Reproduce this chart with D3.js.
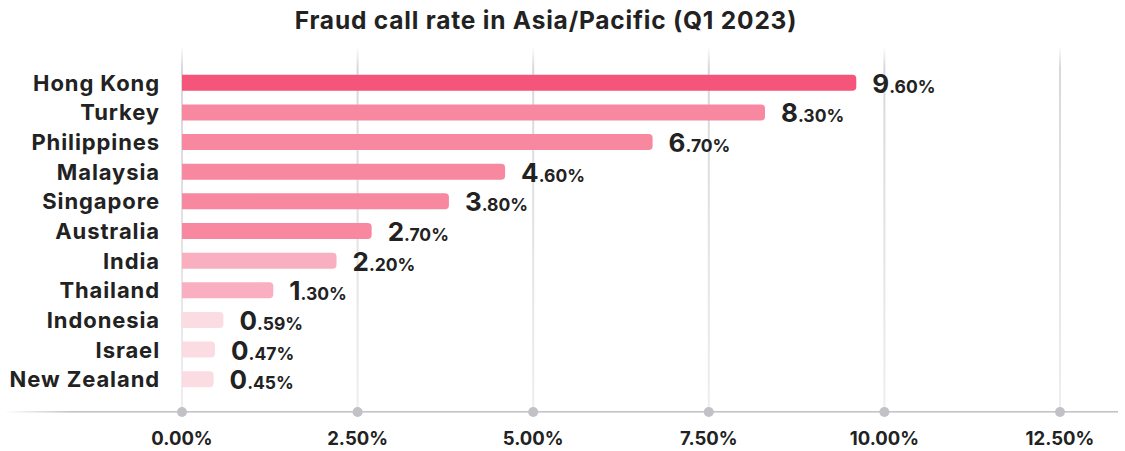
<!DOCTYPE html>
<html><head><meta charset="utf-8">
<script src="https://cdn.jsdelivr.net/npm/d3@7"></script>
<style>body{margin:0;background:#fff;}svg{display:block;font-family:Inter,"Open Sans",sans-serif;}</style>
</head><body>
<svg id="c" width="1125" height="451"></svg>
<script>
const categories = ["Hong Kong","Turkey","Philippines","Malaysia","Singapore","Australia","India","Thailand","Indonesia","Israel","New Zealand"];
const values = [9.60,8.30,6.70,4.60,3.80,2.70,2.20,1.30,0.59,0.47,0.45];
const colors = ["#f5557a","#f7889f","#f7889f","#f7889f","#f7889f","#f7889f","#f9afc0","#f9afc0","#fcdce3","#fcdce3","#fcdce3"];
const tickValues = [0,2.5,5,7.5,10,12.5];
const tickLabels = ["0.00%","2.50%","5.00%","7.50%","10.00%","12.50%"];
const title = "Fraud call rate in Asia/Pacific (Q1 2023)";

const svg = d3.select("#c");
const x = d3.scaleLinear().domain([0,12.5]).range([182,1060]);
const y = d3.scaleBand().domain(categories).range([68,394]).paddingInner(0.46).paddingOuter(0.23);

const defs = svg.append("defs");
const gg = defs.append("linearGradient").attr("id","gridGrad").attr("x1",0).attr("x2",0).attr("y1",0).attr("y2",1);
gg.append("stop").attr("offset","0").attr("stop-color","#d8d8dc").attr("stop-opacity",0);
gg.append("stop").attr("offset","0.06").attr("stop-color","#d8d8dc").attr("stop-opacity",1);
gg.append("stop").attr("offset","1").attr("stop-color","#eeeef0").attr("stop-opacity",1);
const ag = defs.append("linearGradient").attr("id","axGrad").attr("x1",0).attr("x2",1).attr("y1",0).attr("y2",0);
ag.append("stop").attr("offset","0").attr("stop-color","#c4c4c8").attr("stop-opacity",0);
ag.append("stop").attr("offset","0.06").attr("stop-color","#c4c4c8").attr("stop-opacity",1);
ag.append("stop").attr("offset","1").attr("stop-color","#c4c4c8").attr("stop-opacity",1);

svg.append("text").attr("x",546).attr("y",29).attr("text-anchor","middle")
  .attr("font-size",24.5).attr("font-weight",700).attr("letter-spacing",0.8).attr("fill","#222").text(title);

// gridlines
svg.append("g").selectAll("rect").data(tickValues).join("rect")
  .attr("x",d=>x(d)-1).attr("width",2).attr("y",46).attr("height",366)
  .attr("fill","url(#gridGrad)");

// axis line
svg.append("rect").attr("x",4).attr("y",411).attr("width",1114).attr("height",1.6).attr("fill","url(#axGrad)");
svg.append("g").selectAll("circle").data(tickValues).join("circle")
  .attr("cx",d=>x(d)).attr("cy",412).attr("r",5).attr("fill","#c2c2c6");
svg.append("g").selectAll("text").data(tickValues).join("text")
  .attr("x",d=>x(d)).attr("y",445).attr("text-anchor","middle")
  .attr("font-size",18.5).attr("font-weight",700).attr("fill","#222")
  .text((d,i)=>tickLabels[i]);

// bars with rounded right corners
const r = 4;
function barPath(d){
  const x0 = x(0), x1 = x(d.v), y0 = y(d.c), h = y.bandwidth();
  const rr = Math.min(r, (x1-x0));
  return `M${x0},${y0}H${x1-rr}Q${x1},${y0} ${x1},${y0+rr}V${y0+h-rr}Q${x1},${y0+h} ${x1-rr},${y0+h}H${x0}Z`;
}
const data = categories.map((c,i)=>({c,v:values[i],col:colors[i]}));
svg.append("g").selectAll("path").data(data).join("path")
  .attr("d",barPath).attr("fill",d=>d.col);

// category labels
svg.append("g").selectAll("text").data(data).join("text")
  .attr("x",160).attr("y",d=>y(d.c)+y.bandwidth()/2+8).attr("text-anchor","end")
  .attr("font-size",22).attr("font-weight",700).attr("letter-spacing",0.9).attr("fill","#222").text(d=>d.c);

// value labels
const vl = svg.append("g").selectAll("text").data(data).join("text")
  .attr("x",d=>x(d.v)+16).attr("y",d=>y(d.c)+y.bandwidth()/2+10)
  .attr("font-weight",700).attr("fill","#222");
vl.append("tspan").attr("font-size",26).text(d=>d.v.toFixed(2).split(".")[0]);
vl.append("tspan").attr("font-size",17.5).text(d=>"."+d.v.toFixed(2).split(".")[1]+"%");
</script>
</body></html>
